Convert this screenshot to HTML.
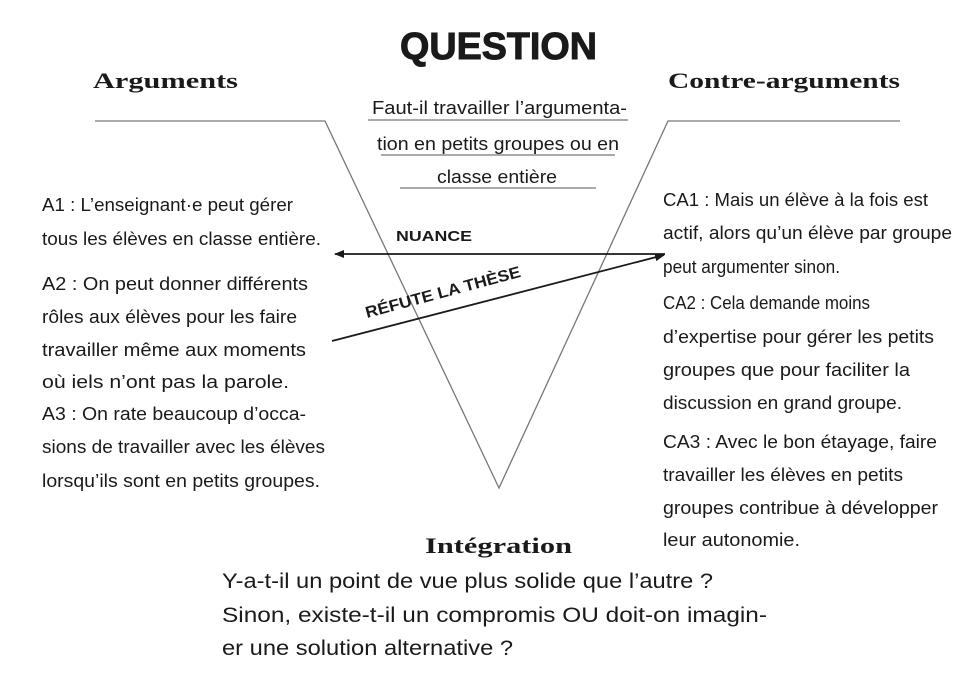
<!DOCTYPE html>
<html><head><meta charset="utf-8"><style>
html,body{margin:0;padding:0;background:#fff;width:974px;height:690px;overflow:hidden}
svg{display:block}
.t{font-family:"Liberation Sans",sans-serif;font-size:18px;fill:#1a1a1a}
.h{font-family:"Liberation Serif",serif;font-weight:bold;font-size:22px;fill:#1a1a1a}
.b{font-family:"Liberation Sans",sans-serif;font-size:21px;fill:#1a1a1a}
.m{font-family:"Liberation Sans",sans-serif;font-weight:bold;fill:#1a1a1a}
</style></head><body>
<svg width="974" height="690" viewBox="0 0 974 690" xmlns="http://www.w3.org/2000/svg">
<defs>
<marker id="ah" markerWidth="10" markerHeight="8" refX="9" refY="4" orient="auto" markerUnits="userSpaceOnUse"><path d="M0,0 L10,4 L0,8 Z" fill="#1a1a1a"/></marker>
</defs>
<text class="m" x="400" y="59" font-size="38" textLength="197" lengthAdjust="spacingAndGlyphs" stroke="#1a1a1a" stroke-width="1">QUESTION</text>
<text class="h" x="93" y="88" textLength="145" lengthAdjust="spacingAndGlyphs">Arguments</text>
<text class="h" x="668" y="88" textLength="232" lengthAdjust="spacingAndGlyphs">Contre-arguments</text>
<g fill="none" stroke="#777" stroke-width="1.3">
<polyline points="95,121 325,121 499,488 668,121 900,121"/>
<line x1="368" y1="120" x2="628" y2="120"/>
<line x1="381" y1="155" x2="615" y2="155"/>
<line x1="400" y1="188" x2="596" y2="188"/>
</g>
<text class="t" x="372" y="114" textLength="255" lengthAdjust="spacingAndGlyphs">Faut-il travailler l’argumenta-</text>
<text class="t" x="377" y="150" textLength="242" lengthAdjust="spacingAndGlyphs">tion en petits groupes ou en</text>
<text class="t" x="437" y="183" textLength="120" lengthAdjust="spacingAndGlyphs">classe entière</text>
<line x1="665" y1="254" x2="335" y2="254" stroke="#1a1a1a" stroke-width="1.8" marker-end="url(#ah)"/>
<line x1="332" y1="341" x2="664" y2="255" stroke="#1a1a1a" stroke-width="1.8" marker-end="url(#ah)"/>
<text class="m" x="396" y="241" font-size="15" textLength="76" lengthAdjust="spacingAndGlyphs">NUANCE</text>
<text class="m" x="0" y="0" font-size="16" textLength="160" lengthAdjust="spacingAndGlyphs" transform="translate(367,318) rotate(-15)">RÉFUTE LA THÈSE</text>
<g class="t">
<text x="42" y="211" textLength="251" lengthAdjust="spacingAndGlyphs">A1 : L’enseignant·e peut gérer</text>
<text x="42" y="245" textLength="279" lengthAdjust="spacingAndGlyphs">tous les élèves en classe entière.</text>
<text x="42" y="290" textLength="266" lengthAdjust="spacingAndGlyphs">A2 : On peut donner différents</text>
<text x="42" y="323" textLength="255" lengthAdjust="spacingAndGlyphs">rôles aux élèves pour les faire</text>
<text x="42" y="356" textLength="264" lengthAdjust="spacingAndGlyphs">travailler même aux moments</text>
<text x="42" y="388" textLength="247" lengthAdjust="spacingAndGlyphs">où iels n’ont pas la parole.</text>
<text x="42" y="420" textLength="264" lengthAdjust="spacingAndGlyphs">A3 : On rate beaucoup d’occa-</text>
<text x="42" y="453" textLength="283" lengthAdjust="spacingAndGlyphs">sions de travailler avec les élèves</text>
<text x="42" y="487" textLength="278" lengthAdjust="spacingAndGlyphs">lorsqu’ils sont en petits groupes.</text>
<text x="663" y="206" textLength="265" lengthAdjust="spacingAndGlyphs">CA1 : Mais un élève à la fois est</text>
<text x="663" y="239" textLength="289" lengthAdjust="spacingAndGlyphs">actif, alors qu’un élève par groupe</text>
<text x="663" y="273" textLength="177" lengthAdjust="spacingAndGlyphs">peut argumenter sinon.</text>
<text x="663" y="309" textLength="207" lengthAdjust="spacingAndGlyphs">CA2 : Cela demande moins</text>
<text x="663" y="343" textLength="271" lengthAdjust="spacingAndGlyphs">d’expertise pour gérer les petits</text>
<text x="663" y="376" textLength="247" lengthAdjust="spacingAndGlyphs">groupes que pour  faciliter la</text>
<text x="663" y="409" textLength="239" lengthAdjust="spacingAndGlyphs">discussion en grand groupe.</text>
<text x="663" y="448" textLength="274" lengthAdjust="spacingAndGlyphs">CA3 : Avec le bon étayage, faire</text>
<text x="663" y="481" textLength="240" lengthAdjust="spacingAndGlyphs">travailler les élèves en petits</text>
<text x="663" y="514" textLength="275" lengthAdjust="spacingAndGlyphs">groupes contribue à développer</text>
<text x="663" y="546" textLength="137" lengthAdjust="spacingAndGlyphs">leur autonomie.</text>
</g>
<text class="h" x="425" y="553" textLength="147" lengthAdjust="spacingAndGlyphs">Intégration</text>
<text class="b" x="222" y="588" textLength="491" lengthAdjust="spacingAndGlyphs">Y-a-t-il un point de vue plus solide que l’autre ?</text>
<text class="b" x="222" y="622" textLength="545" lengthAdjust="spacingAndGlyphs">Sinon, existe-t-il un compromis OU doit-on imagin-</text>
<text class="b" x="222" y="655" textLength="291" lengthAdjust="spacingAndGlyphs">er une solution alternative ?</text>
</svg>
</body></html>
